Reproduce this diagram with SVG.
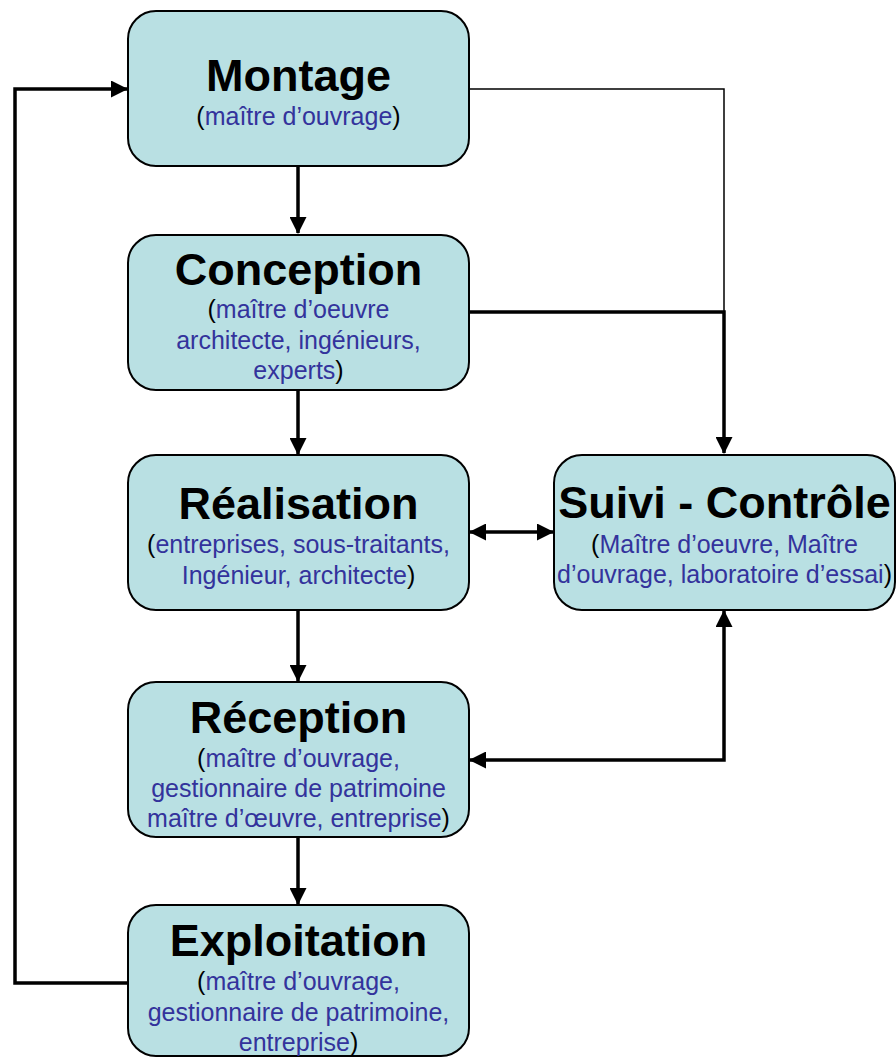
<svg xmlns="http://www.w3.org/2000/svg" width="896" height="1057" viewBox="0 0 896 1057">
<style>
.box{fill:#b9e0e3;stroke:#000;stroke-width:2}
.t{font-family:"Liberation Sans",Arial,sans-serif;font-weight:bold;font-size:45px;fill:#000;text-anchor:middle}
.s{font-family:"Liberation Sans",Arial,sans-serif;font-size:25px;fill:#33339c;text-anchor:middle}
.p{fill:#000}
.thick{fill:none;stroke:#000;stroke-width:3.5}
.thin{fill:none;stroke:#000;stroke-width:1.5}
</style>
<defs>
<marker id="ah" markerUnits="userSpaceOnUse" markerWidth="17" markerHeight="17" refX="16" refY="8.5" orient="auto-start-reverse" viewBox="0 0 17 17">
<path d="M0,0 L17,8.5 L0,17 z" fill="#000"/>
</marker>
</defs>
<rect width="896" height="1057" fill="#fff"/>
<g id="connectors">
<path class="thick" d="M298,166 V233" marker-end="url(#ah)"/>
<path class="thick" d="M298,390 V454" marker-end="url(#ah)"/>
<path class="thick" d="M298,610 V681" marker-end="url(#ah)"/>
<path class="thick" d="M298,837 V904" marker-end="url(#ah)"/>
<path class="thick" d="M128,983 H15 V89 H127" marker-end="url(#ah)"/>
<path class="thin" d="M469,89 H724 V312"/>
<path class="thick" d="M469,312 H724 V453" marker-end="url(#ah)"/>
<path class="thick" d="M470,532 H553" marker-start="url(#ah)" marker-end="url(#ah)"/>
<path class="thick" d="M724,611 V760 H470" marker-start="url(#ah)" marker-end="url(#ah)"/>
</g>
<g id="montage">
<rect class="box" x="128" y="11" width="341" height="155" rx="28"/>
<text class="t" x="298.5" y="91">Montage</text>
<text class="s" x="298.5" y="125"><tspan class="p">(</tspan>maître d’ouvrage<tspan class="p">)</tspan></text>
</g>
<g id="conception">
<rect class="box" x="128" y="235" width="341" height="155" rx="28"/>
<text class="t" x="298.5" y="285">Conception</text>
<text class="s" x="298.5" y="318"><tspan class="p">(</tspan>maître d’oeuvre</text>
<text class="s" x="298.5" y="349">architecte, ingénieurs,</text>
<text class="s" x="298.5" y="379">experts<tspan class="p">)</tspan></text>
</g>
<g id="realisation">
<rect class="box" x="128" y="455" width="341" height="155" rx="28"/>
<text class="t" x="298.5" y="519">Réalisation</text>
<text class="s" x="298.5" y="553"><tspan class="p">(</tspan>entreprises, sous-traitants,</text>
<text class="s" x="298.5" y="584">Ingénieur, architecte<tspan class="p">)</tspan></text>
</g>
<g id="suivi">
<rect class="box" x="554" y="455" width="341" height="155" rx="28"/>
<text class="t" x="724.5" y="518">Suivi - Contrôle</text>
<text class="s" x="724.5" y="553"><tspan class="p">(</tspan>Maître d’oeuvre, Maître</text>
<text class="s" x="724.5" y="583">d’ouvrage, laboratoire d’essai<tspan class="p">)</tspan></text>
</g>
<g id="reception">
<rect class="box" x="128" y="682" width="341" height="155" rx="28"/>
<text class="t" x="298.5" y="733">Réception</text>
<text class="s" x="298.5" y="767"><tspan class="p">(</tspan>maître d’ouvrage,</text>
<text class="s" x="298.5" y="797">gestionnaire de patrimoine</text>
<text class="s" x="298.5" y="827">maître d’œuvre, entreprise<tspan class="p">)</tspan></text>
</g>
<g id="exploitation">
<rect class="box" x="128" y="905" width="341" height="151" rx="28"/>
<text class="t" x="298.5" y="956">Exploitation</text>
<text class="s" x="298.5" y="990"><tspan class="p">(</tspan>maître d’ouvrage,</text>
<text class="s" x="298.5" y="1021">gestionnaire de patrimoine,</text>
<text class="s" x="298.5" y="1051">entreprise<tspan class="p">)</tspan></text>
</g>
</svg>
